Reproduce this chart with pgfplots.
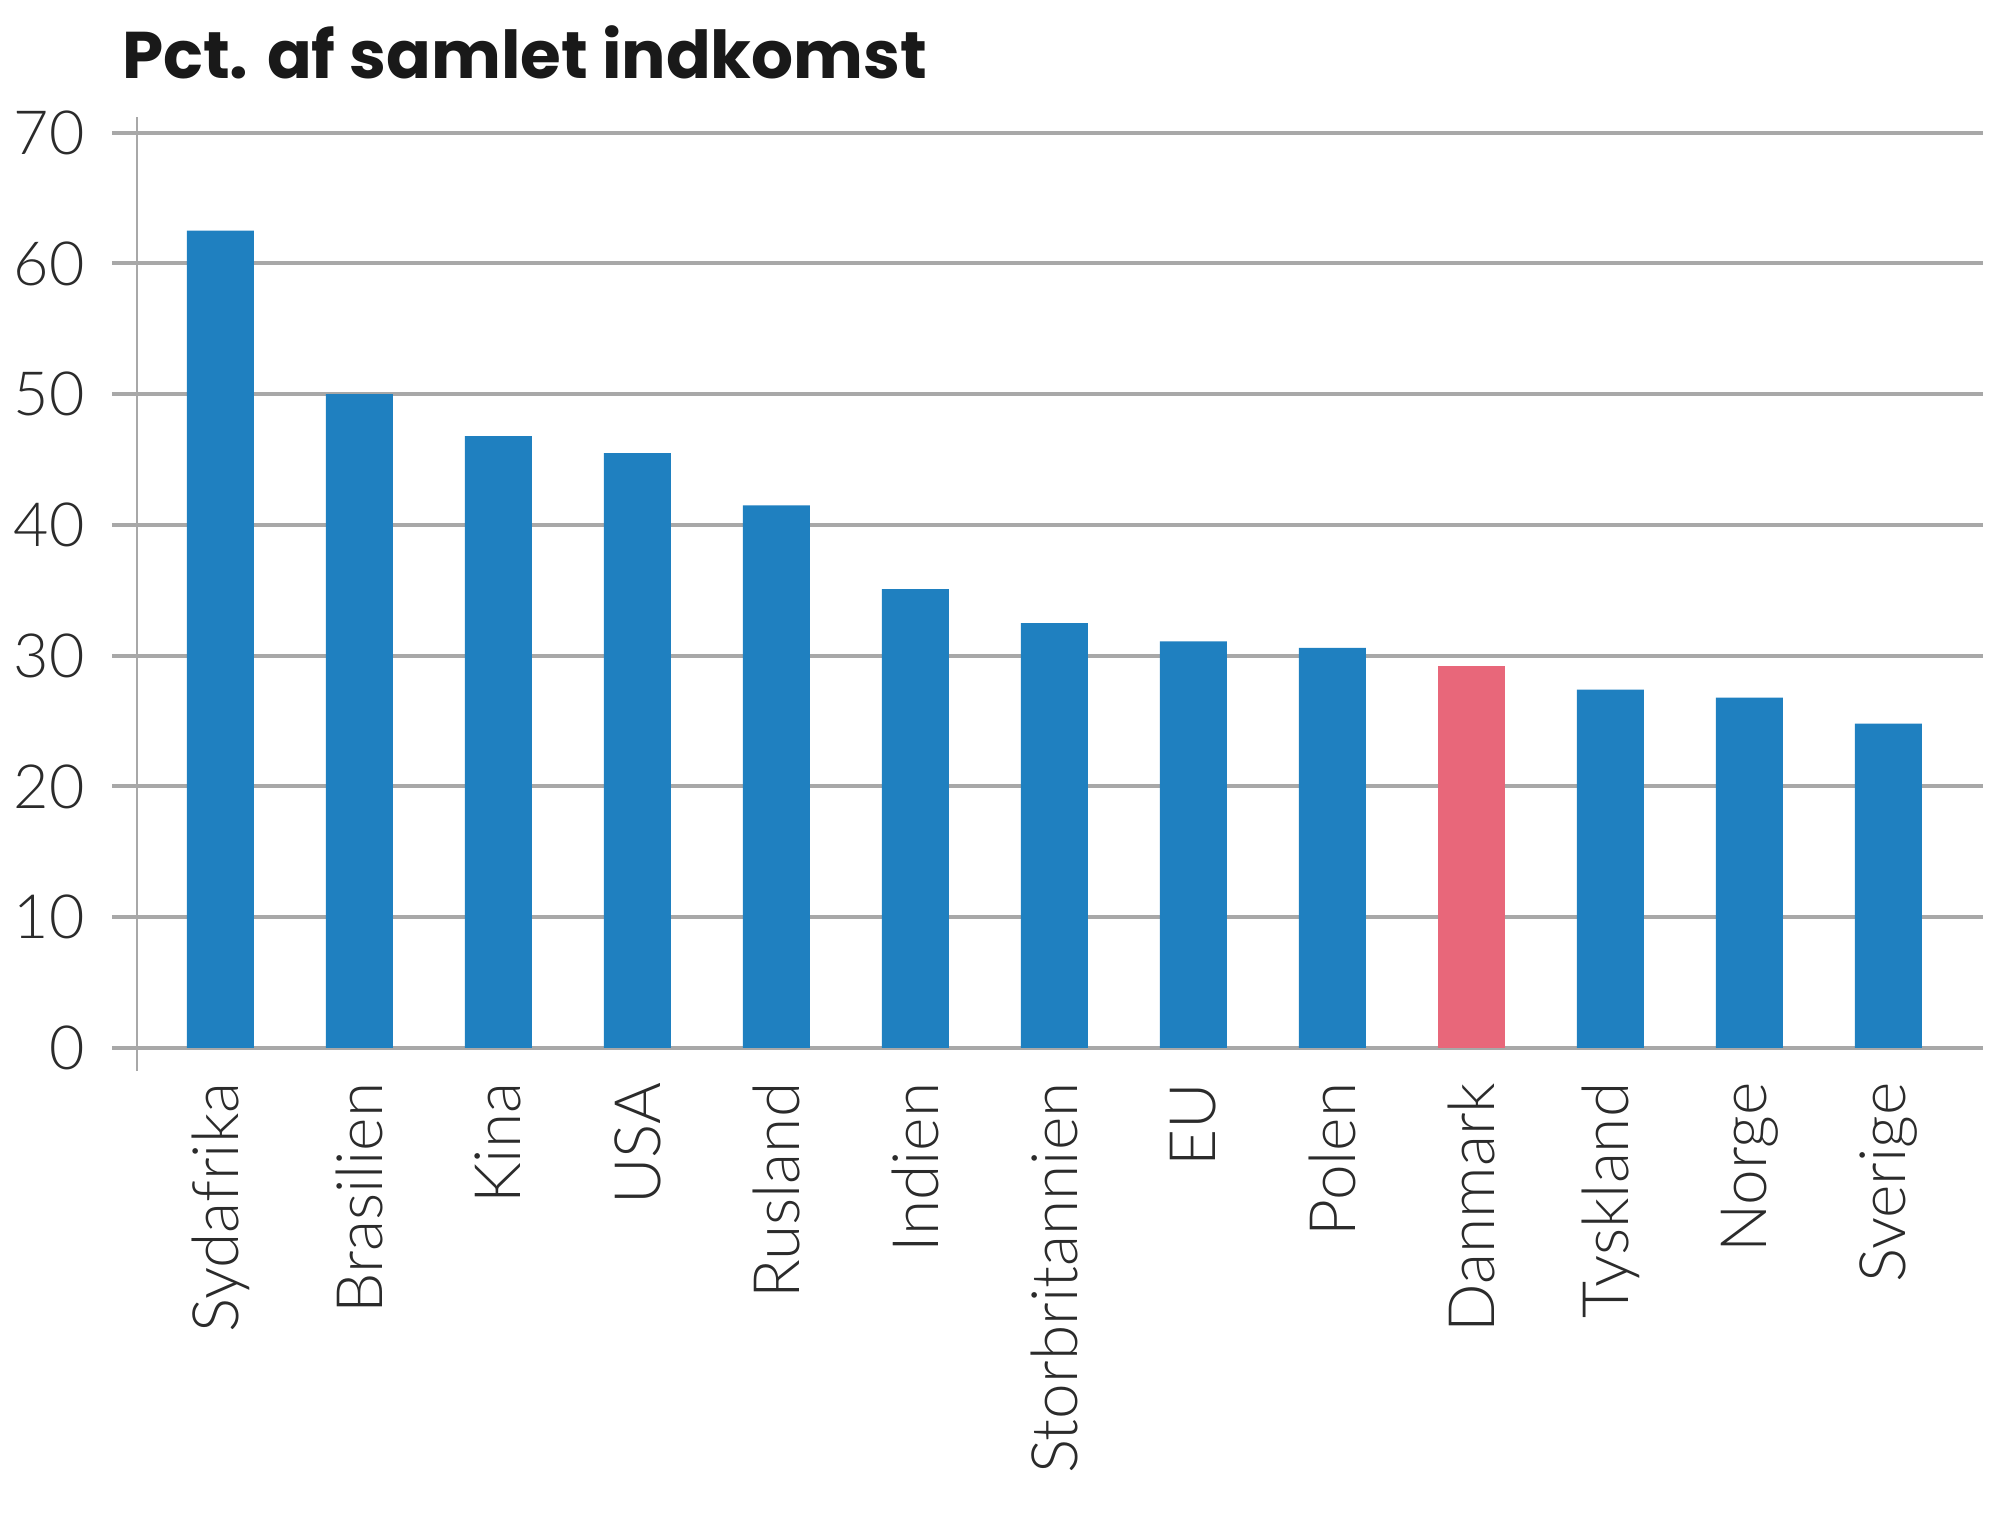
\documentclass[border=0pt]{standalone}
\usepackage{fontspec}
\setmainfont{Lato}
\newfontfamily\titlefont{Poppins}
\newfontfamily\lightfont{Lato Light}
\usepackage{pgfplots}
\usepackage{pgfplotstable}
\pgfplotsset{compat=1.18}
\definecolor{barblue}{HTML}{1F80C0}
\definecolor{barpink}{HTML}{E8677A}
\definecolor{gridgray}{HTML}{A8A8A8}
\definecolor{txt}{HTML}{2B2B2B}
\pgfplotstableread{
x y
0 62.5
1 50.0
2 46.8
3 45.5
4 41.5
5 35.1
6 32.5
7 31.1
8 30.6
10 27.4
11 26.8
12 24.8
}\bluedata
\pgfplotstableread{
x y
9 29.2
}\pinkdata
\begin{document}
\begin{tikzpicture}
\path[use as bounding box] (0,0) rectangle (400bp,306.2bp);
\node[anchor=base west, inner sep=0pt, text=black!90, font=\fontsize{13.2bp}{15bp}\titlefont\bfseries] at (24.2bp,290.4bp) {Pct. af samlet indkomst};
\begin{axis}[
  at={(27.4bp,92bp)}, anchor=south west,
  scale only axis,
  width=369.2bp, height=190.8bp,
  xmin=-0.6, xmax=12.68,
  ymin=-1.76, ymax=71.2,
  axis x line*=bottom,
  x axis line style={draw=none},
  axis y line*=left,
  y axis line style={draw=gridgray, line width=0.4bp},
  ytick={0,10,...,70},
  ymajorgrids,
  major grid style={draw=gridgray, line width=0.8bp},
  tick align=outside,
  major tick length=5bp,
  ytick style={draw=gridgray, line width=0.8bp},
  xtick style={draw=none},
  yticklabel style={font=\fontsize{12.2bp}{14bp}\lightfont, text=txt, xshift=-2bp},
  /pgf/number format/assume math mode=true,
  xtick={0,...,12},
  xticklabels={Sydafrika,Brasilien,Kina,USA,Rusland,Indien,Storbritannien,EU,Polen,Danmark,Tyskland,Norge,Sverige},
  xticklabel style={rotate=90, anchor=east, font=\fontsize{12.8bp}{14bp}\lightfont, text=txt, xshift=6.2bp},
  clip=false,
]
\addplot[ybar, bar width=13.4bp, bar shift=0pt, fill=barblue, draw=none] table[x=x,y=y] {\bluedata};
\addplot[ybar, bar width=13.4bp, bar shift=0pt, fill=barpink, draw=none] table[x=x,y=y] {\pinkdata};
\end{axis}
\end{tikzpicture}
\end{document}
